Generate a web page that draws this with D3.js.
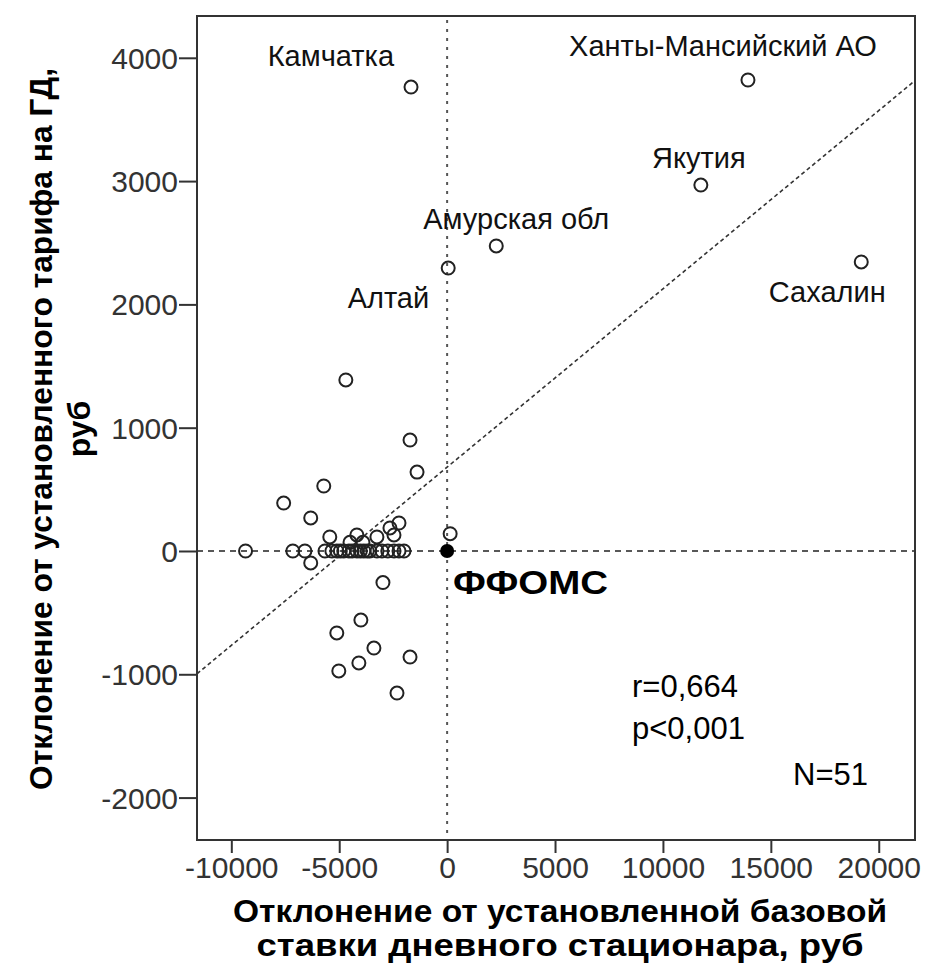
<!DOCTYPE html>
<html><head><meta charset="utf-8">
<script src="https://cdn.jsdelivr.net/npm/d3@7"></script>
<style>body{margin:0;background:#fff}svg{display:block}</style>
</head><body>
<script>
// ---- data ----
const xTicks = [-10000, -5000, 0, 5000, 10000, 15000, 20000];
const yTicks = [-2000, -1000, 0, 1000, 2000, 3000, 4000];
// all regions (hollow circles): deviation of base rate (x) and GD tariff (y), rub
const devX = [
  -1673, 13940, 11757, 2277, 50, 19190,
  -4693, -1719, -1394,
  -7574, -5716, -6320, -6320,
  140, -2974,
  -3996, -5112, -3392, -4089, -5019, -1719, -2323,
  -5437, -4182, -4500, -3900, -3253, -2649, -2230, -2463,
  -9340, -7150, -6590, -5660, -5340, -5110, -4950, -4790, -4550, -4400, -4180, -4020, -3860, -3700, -3580, -3250, -3020, -2750, -2460, -2230, -2000
];
const devY = [
  3763, 3820, 2968, 2474, 2295, 2344,
  1387, 900, 640,
  389, 527, 268, -97,
  140, -256,
  -560, -665, -787, -908, -973, -860, -1152,
  114, 130, 70, 70, 114, 187, 227, 130,
  0, 0, 0, 0, 0, 0, 0, 0, 0, 0, 0, 0, 0, 0, 0, 0, 0, 0, 0, 0, 0
];
const labelNames = ["Камчатка", "Ханты-Мансийский АО", "Якутия", "Амурская обл", "Алтай", "Сахалин"];
const labelIdx = [0, 1, 2, 3, 4, 5];
const refName = "ФФОМС";
const refX = [0], refY = [0];
const regSlope = 0.1446, regIntercept = 680;
const statLines = ["r=0,664", "p<0,001", "N=51"];
const xTitle = ["Отклонение от установленной базовой", "ставки дневного стационара, руб"];
const yTitle = ["Отклонение от установленного тарифа на ГД,", "руб"];

// ---- layout ----
const W = 926, H = 978;
const L = 197, R = 915, T = 16, B = 840;
const x = d3.scaleLinear().domain([-11590, 21680]).range([L, R]);
const y = d3.scaleLinear().domain([-2344, 4339]).range([B, T]);
const font = "Arial, 'Liberation Sans', sans-serif";

const svg = d3.select("body").append("svg").attr("width", W).attr("height", H)
  .style("font-family", font);

// reference lines
svg.append("line").attr("x1", x(0)).attr("x2", x(0)).attr("y1", T + 4).attr("y2", B)
  .attr("stroke", "#555").attr("stroke-width", 2).attr("stroke-dasharray", "3,6");
svg.append("line").attr("x1", L).attr("x2", R).attr("y1", y(0)).attr("y2", y(0))
  .attr("stroke", "#222").attr("stroke-width", 1.6).attr("stroke-dasharray", "6,5");

// regression line
const xd = x.domain();
svg.append("line")
  .attr("x1", x(xd[0])).attr("y1", y(regIntercept + regSlope * xd[0]))
  .attr("x2", x(xd[1])).attr("y2", y(regIntercept + regSlope * xd[1]))
  .attr("stroke", "#333").attr("stroke-width", 1.6).attr("stroke-dasharray", "4,3");

// points
svg.append("g").selectAll("circle").data(devX.map((d, i) => [d, devY[i]])).join("circle")
  .attr("cx", d => x(d[0])).attr("cy", d => y(d[1])).attr("r", 6.5)
  .attr("fill", "none").attr("stroke", "#222").attr("stroke-width", 2);
svg.append("g").selectAll("circle").data(refX.map((d, i) => [d, refY[i]])).join("circle")
  .attr("cx", d => x(d[0])).attr("cy", d => y(d[1])).attr("r", 7)
  .attr("fill", "#000");

// point labels (offsets in px relative to the point)
const lblOff = [[-17, -21, "end"], [-25, -24, "middle"], [-2, -17, "middle"], [20, -17, "middle"], [-19, 40, "end"], [-34, 40, "middle"]];
svg.append("g").selectAll("text").data(labelIdx).join("text")
  .attr("x", (d, i) => x(devX[d]) + lblOff[i][0])
  .attr("y", (d, i) => y(devY[d]) + lblOff[i][1])
  .attr("text-anchor", (d, i) => lblOff[i][2])
  .attr("font-size", 29).attr("fill", "#111")
  .text((d, i) => labelNames[i]);

svg.append("text").attr("x", x(0) + 6).attr("y", y(0) + 43)
  .attr("font-size", 33).attr("font-weight", "bold").attr("fill", "#000")
  .attr("textLength", 155).attr("lengthAdjust", "spacingAndGlyphs").text(refName);

// stats
svg.append("text").attr("x", 632).attr("y", 697).attr("font-size", 31).attr("fill", "#000").text(statLines[0]);
svg.append("text").attr("x", 632).attr("y", 739).attr("font-size", 31).attr("fill", "#000").text(statLines[1]);
svg.append("text").attr("x", 868).attr("y", 785).attr("text-anchor", "end").attr("font-size", 31).attr("fill", "#000").text(statLines[2]);

// axes
const fmt = d => String(d);
const gx = svg.append("g").attr("transform", `translate(0,${B})`)
  .call(d3.axisBottom(x).tickValues(xTicks).tickFormat(fmt).tickSize(13).tickPadding(4).tickSizeOuter(0));
const gy = svg.append("g").attr("transform", `translate(${L},0)`)
  .call(d3.axisLeft(y).tickValues(yTicks).tickFormat(fmt).tickSize(18).tickPadding(1).tickSizeOuter(0));
[gx, gy].forEach(g => {
  g.select(".domain").remove();
  g.selectAll("line").attr("stroke", "#333").attr("stroke-width", 2);
  g.selectAll("text").attr("font-size", 30).attr("fill", "#333").attr("font-family", font);
});
gy.selectAll("text").attr("dy", "0.35em");

// frame
svg.append("rect").attr("x", L).attr("y", T).attr("width", R - L).attr("height", B - T)
  .attr("fill", "none").attr("stroke", "#333").attr("stroke-width", 2);

// axis titles
const xtLen = [654, 607];
svg.append("text").attr("text-anchor", "middle").attr("font-size", 32).attr("font-weight", "bold")
  .selectAll("tspan").data(xTitle).join("tspan")
  .attr("x", 560).attr("y", (d, i) => 922 + i * 34)
  .attr("textLength", (d, i) => xtLen[i]).attr("lengthAdjust", "spacingAndGlyphs").text(d => d);
svg.append("text").attr("text-anchor", "middle").attr("font-size", 32).attr("font-weight", "bold")
  .attr("transform", `translate(0,429) rotate(-90)`)
  .selectAll("tspan").data(yTitle).join("tspan")
  .attr("x", 0).attr("y", (d, i) => 52 + i * 38)
  .attr("textLength", (d, i) => i === 0 ? 722 : null).attr("lengthAdjust", "spacingAndGlyphs").text(d => d);
</script>
</body></html>
